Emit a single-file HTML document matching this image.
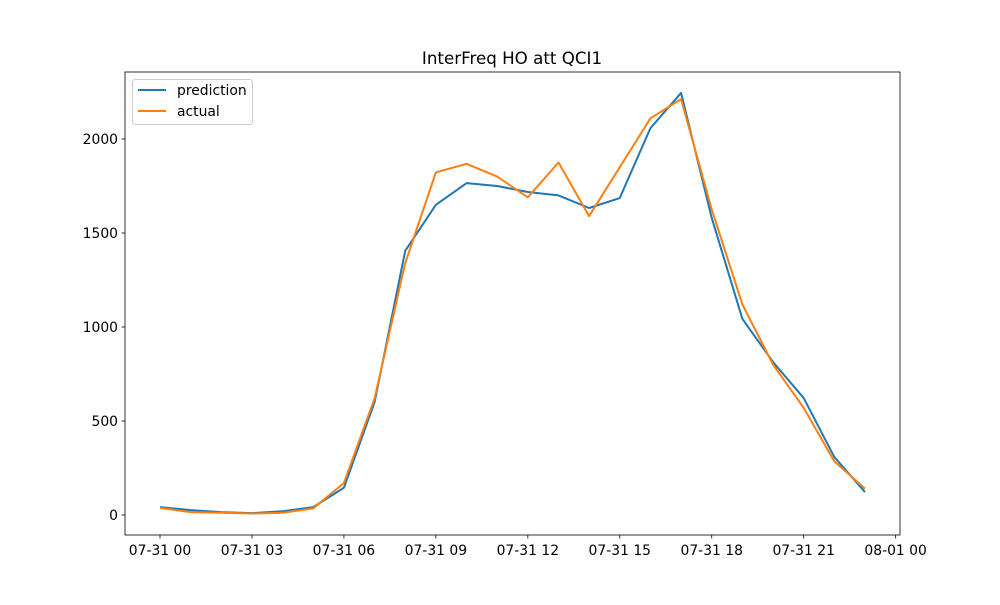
<!DOCTYPE html>
<html><head><meta charset="utf-8"><style>
body{margin:0;background:#fff;}
svg{font-family:"DejaVu Sans","Liberation Sans",sans-serif;}
</style></head><body>
<svg id="chart" width="1000" height="600">
<rect width="1000" height="600" fill="#fff"/>
<text x="512" y="64" text-anchor="middle" font-size="16.7">InterFreq HO att QCI1</text>
<g id="axes"></g>
<g id="series"></g>
<rect x="125" y="72" width="775" height="463" fill="none" stroke="#000" stroke-width="0.8"/>
<g>
<rect x="132.5" y="79.5" width="120" height="45" fill="#fff" fill-opacity="0.8" stroke="#ccc" rx="3"/>
<line x1="138" y1="90" x2="166" y2="90" stroke="#1f77b4" stroke-width="2"/>
<text x="177" y="95" font-size="13.9">prediction</text>
<line x1="138" y1="111" x2="166" y2="111" stroke="#ff7f0e" stroke-width="2"/>
<text x="177" y="116" font-size="13.9">actual</text>
</g>
</svg>
<script>
const hours = [0,1,2,3,4,5,6,7,8,9,10,11,12,13,14,15,16,17,18,19,20,21,22,23];
const prediction = [42,26,15,10,20,42,145,600,1405,1650,1765,1750,1718,1700,1633,1686,2058,2245,1580,1043,814,622,308,122];
const actual = [38,15,12,8,12,35,170,620,1340,1822,1868,1800,1690,1875,1590,1850,2110,2212,1625,1120,800,570,285,140];
const yTicks = [0,500,1000,1500,2000];
const xTickHours = [0,3,6,9,12,15,18,21,24];
const xTickLabels = ["07-31 00","07-31 03","07-31 06","07-31 09","07-31 12","07-31 15","07-31 18","07-31 21","08-01 00"];
const NS="http://www.w3.org/2000/svg";
const xS = h => 160 + h*(865-160)/23;
const yS = v => 515 - v*(515-139)/2000;
const axes=document.getElementById('axes'), ser=document.getElementById('series');
function mk(tag,attrs,parent){const e=document.createElementNS(NS,tag);for(const k in attrs)e.setAttribute(k,attrs[k]);parent.appendChild(e);return e;}
yTicks.forEach(v=>{
  const y=yS(v);
  const t=mk('line',{x1:121.5,x2:125,y1:y,y2:y,stroke:'#000','stroke-width':0.8},axes);
  
  
  const l=mk('text',{x:118,y:y+5,'text-anchor':'end','font-size':13.9},axes);
  l.textContent=v;
  
  
});
xTickHours.forEach((h,i)=>{
  const x=xS(h);
  const t=mk('line',{x1:x,x2:x,y1:535,y2:538.5,stroke:'#000','stroke-width':0.8},axes);
  
  
  const l=mk('text',{x:x,y:555,'text-anchor':'middle','font-size':13.9},axes);
  l.textContent=xTickLabels[i];
  
  
});
function line(data,color,name){
  const p=mk('polyline',{points:data.map((v,i)=>xS(hours[i])+','+yS(v)).join(' '),fill:'none',stroke:color,'stroke-width':2,'stroke-linejoin':'round'},ser);
  
  
}
line(prediction,'#1f77b4','prediction-line');
line(actual,'#ff7f0e','actual-line');
</script>
</body></html>
